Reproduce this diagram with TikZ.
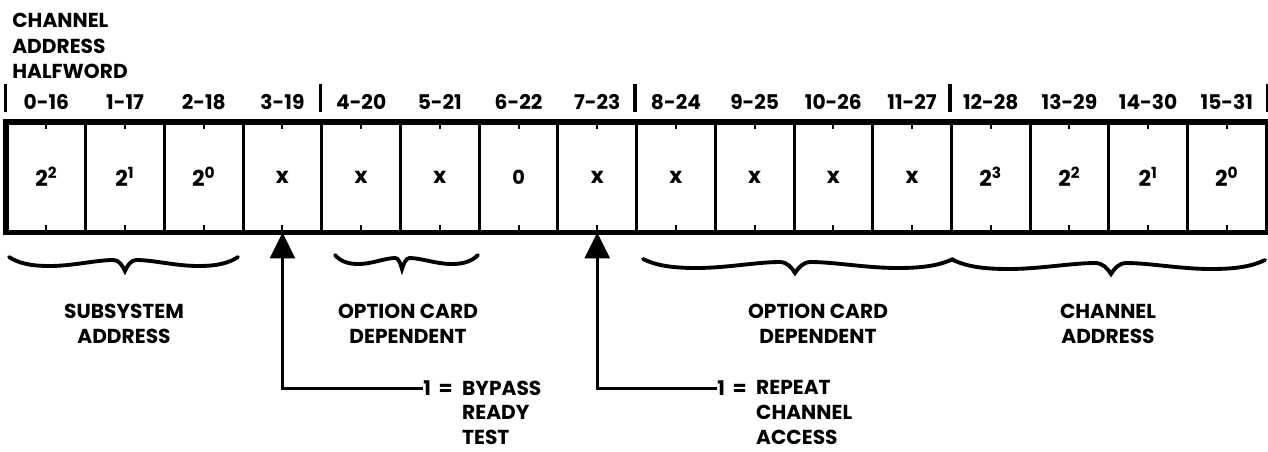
\documentclass[tikz,border=0pt]{standalone}
\usepackage{fontspec}
\setmainfont{Poppins}
\usetikzlibrary{arrows.meta,positioning}
% hand-drawn underbrace: left end, tip, right end, level (all in px)
\newcommand\wavebrace[4]{%
  \draw[brc] (#1,#4)
    .. controls ({#1+0.08*(#2-#1)},{#4+6}) and ({#1+0.18*(#2-#1)},{#4+9}) .. ({#1+0.35*(#2-#1)},{#4+9})
    .. controls ({#1+0.55*(#2-#1)},{#4+9}) and ({#1+0.75*(#2-#1)},{#4+3}) .. ({#1+0.9*(#2-#1)},{#4+3})
    .. controls ({#1+0.95*(#2-#1)},{#4+3}) and ({#2-0.02*(#2-#1)},{#4+9}) .. (#2,{#4+14})
    .. controls ({#2+0.02*(#3-#2)},{#4+9}) and ({#2+0.05*(#3-#2)},{#4+3}) .. ({#2+0.1*(#3-#2)},{#4+3})
    .. controls ({#2+0.25*(#3-#2)},{#4+3}) and ({#2+0.45*(#3-#2)},{#4+9}) .. ({#2+0.65*(#3-#2)},{#4+9})
    .. controls ({#2+0.82*(#3-#2)},{#4+9}) and ({#2+0.92*(#3-#2)},{#4+6}) .. (#3,#4);}

\begin{document}
\begin{tikzpicture}[x=0.02cm,y=-0.02cm,
  txt/.style={font=\bfseries\fontsize{11.5}{14.5}\selectfont,inner sep=0pt},
  note/.style={font=\bfseries\fontsize{11.5}{14}\selectfont,inner sep=0pt},
  cell/.style={draw,line width=1.7pt,minimum width=1.574cm,minimum height=2.16cm,inner sep=0pt,font=\bfseries\fontsize{12.5}{14}\selectfont},
  frame/.style={line width=2.8pt},
  tick/.style={line width=1.1pt},
  sepbar/.style={line width=2pt},
  brc/.style={line width=2.2pt,line cap=round},
  arr/.style={-{Triangle[length=5.2mm,width=5mm]},line width=1.7pt}]
 \useasboundingbox (0,0) rectangle (1268,451);
 \node[txt,anchor=north west,align=left] (head) at (12,13) {CHANNEL\\ADDRESS\\HALFWORD};
 % the sixteen bit cells
 \foreach \v [count=\i from 0] in {2\textsuperscript{2},2\textsuperscript{1},2\textsuperscript{0},x,x,x,{\fontsize{11}{11}\selectfont 0},x,x,x,x,x,2\textsuperscript{3},2\textsuperscript{2},2\textsuperscript{1},2\textsuperscript{0}}
 {
  \node[cell] (c\i) at ({46.35+78.7*\i},177) {\v};
  \pgfmathtruncatemacro\j{\i+16}
  \node[txt] (b\i) at ({46.35+78.7*\i},102) {\i-\j};
  \draw[tick] (c\i.north) -- ++(0,7) (c\i.south) -- ++(0,-7);
 }
 \draw[frame] (c0.north west) rectangle (c15.south east);
 \foreach \k in {0,4,8,12}
  \draw[sepbar] ([yshift=0.2cm]c\k.north west) -- ([yshift=0.76cm]c\k.north west);
 \draw[sepbar] ([yshift=0.2cm]c15.north east) -- ([yshift=0.76cm]c15.north east);
 % braces and field names
 \wavebrace{9}{125}{238}{257}
 \wavebrace{335}{402}{478}{255}
 \wavebrace{643}{795}{953}{259}
 \wavebrace{953}{1111}{1265}{260}
 \node[txt,align=center] (subsys) at (124,324) {SUBSYSTEM\\ADDRESS};
 \node[txt,align=center] (opt1) at (408,324) {OPTION CARD\\DEPENDENT};
 \node[txt,align=center] (opt2) at (818,324) {OPTION CARD\\DEPENDENT};
 \node[txt,align=center] (chan) at (1108,324) {CHANNEL\\ADDRESS};
 % flag bits
 \node[note,anchor=west] (one1) at (423,388) {1\,\ =};
 \node[note,anchor=north west,align=left] (bypass) at ([xshift=5pt]one1.north east) {BYPASS\\READY\\TEST};
 \draw[arr] (one1.west) -| (c3.south);
 \node[note,anchor=west] (one2) at (717,388) {1\,\ =};
 \node[note,anchor=north west,align=left] (repeat) at ([xshift=5pt]one2.north east) {REPEAT\\CHANNEL\\ACCESS};
 \draw[arr] (one2.west) -| (c7.south);
\end{tikzpicture}
\end{document}
